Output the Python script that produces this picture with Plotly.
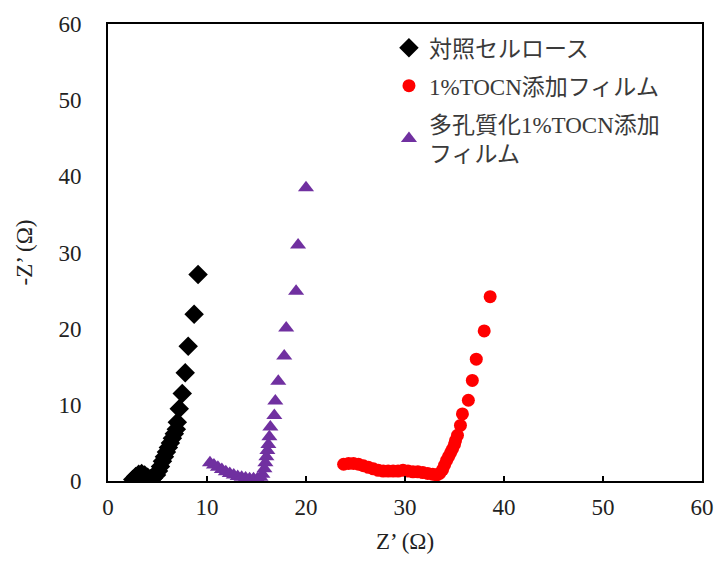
import plotly.graph_objects as go

# 対照セルロース
ctrl_x = [2.5, 2.8, 3.1, 3.4, 3.7, 4.0, 4.3, 4.6, 4.9, 5.1, 5.3, 5.5, 5.7, 5.9, 6.1, 6.3, 6.5, 6.7, 6.9, 7.0, 7.2, 7.5, 7.8, 8.1, 8.7, 9.1]
ctrl_y = [0.2, 0.6, 0.9, 1.0, 0.8, 0.5, 0.3, 0.4, 0.8, 1.3, 1.9, 2.6, 3.2, 3.8, 4.4, 5.0, 5.6, 6.2, 6.8, 7.7, 9.5, 11.5, 14.2, 17.7, 21.9, 27.1]

# 1%TOCN添加フィルム
tocn_x = [23.8, 24.3, 24.8, 25.3, 25.8, 26.3, 26.8, 27.3, 27.8, 28.3, 28.8, 29.3, 29.8, 30.3, 30.8, 31.3, 31.8, 32.3, 32.8, 33.2, 33.5, 33.8, 34.0, 34.2, 34.4, 34.6, 34.8, 35.0, 35.1, 35.3, 35.6, 35.8, 36.4, 36.8, 37.2, 38.0, 38.6]
tocn_y = [2.2, 2.3, 2.3, 2.2, 2.0, 1.8, 1.6, 1.4, 1.3, 1.3, 1.3, 1.3, 1.4, 1.3, 1.2, 1.2, 1.1, 1.0, 0.9, 0.8, 1.0, 1.5, 2.1, 2.7, 3.2, 3.7, 4.2, 4.8, 5.3, 6.0, 7.3, 8.8, 10.6, 13.2, 16.0, 19.7, 24.2]

# 多孔質化1%TOCN添加フィルム
porous_x = [10.3, 10.7, 11.1, 11.5, 11.9, 12.3, 12.7, 13.1, 13.5, 13.9, 14.3, 14.7, 15.1, 15.4, 15.6, 15.8, 15.9, 16.0, 16.1, 16.2, 16.3, 16.4, 16.8, 16.9, 17.2, 17.8, 18.0, 19.0, 19.2, 20.0]
porous_y = [2.4, 2.1, 1.8, 1.5, 1.2, 1.0, 0.8, 0.6, 0.5, 0.4, 0.3, 0.3, 0.3, 0.5, 0.9, 1.6, 2.4, 3.2, 4.0, 4.8, 5.8, 7.1, 8.6, 10.5, 13.1, 16.4, 20.1, 24.9, 31.0, 38.5]

names = ["対照セルロース", "1%TOCN添加フィルム", "多孔質化1%TOCN添加<br>フィルム"]
x_ticks = [0, 10, 20, 30, 40, 50, 60]
y_ticks = [0, 10, 20, 30, 40, 50, 60]

font_family = "Liberation Serif, Noto Sans CJK JP, serif"

fig = go.Figure()
fig.add_trace(go.Scatter(x=ctrl_x, y=ctrl_y, mode="markers", name=names[0], legendgroup="a",
                         marker=dict(symbol="diamond", size=15, color="black")))
fig.add_trace(go.Scatter(x=tocn_x, y=tocn_y, mode="markers", name=names[1], legendgroup="b",
                         marker=dict(symbol="circle", size=13, color="#FF0000")))
fig.add_trace(go.Scatter(x=porous_x, y=porous_y, mode="markers", name=names[2], legendgroup="c",
                         marker=dict(symbol="triangle-up", size=14, color="#7030A0")))

fig.update_layout(
    width=726, height=574,
    margin=dict(l=108, r=17, t=20, b=93),
    paper_bgcolor="white", plot_bgcolor="white",
    font=dict(family=font_family, size=23, color="#222"),
    legend=dict(x=0.473, y=0.995, xanchor="left", yanchor="top",
                bgcolor="rgba(0,0,0,0)", tracegroupgap=5,
                font=dict(family=font_family, size=23, color="#3a3a3a")),
)
fig.update_xaxes(range=[0, 60], tickvals=x_ticks, ticks="inside", ticklen=5, tickwidth=1.5,
                 tickcolor="black", showline=True, linecolor="black", linewidth=2, mirror=True,
                 showgrid=False, zeroline=False, ticklabelstandoff=4,
                 title=dict(text="Z’ (Ω)", font=dict(size=23, color="#222"), standoff=14),
                 tickfont=dict(size=23, color="#222"))
fig.update_yaxes(range=[0, 60], tickvals=y_ticks, ticks="", showline=True, linecolor="black",
                 linewidth=2, mirror=True, showgrid=False, zeroline=False,
                 title=dict(text="-Z’ (Ω)", font=dict(size=23, color="#222"), standoff=19),
                 tickfont=dict(size=23, color="#222"), ticklabelstandoff=20)

fig.write_html("out.html")
